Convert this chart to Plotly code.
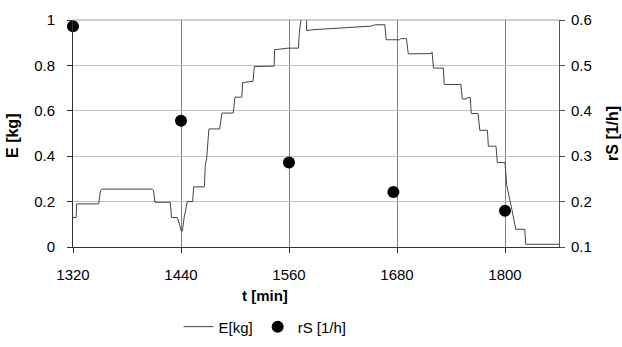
import plotly.graph_objects as go

# E [kg] step-like time series
t_E = [1320, 1323.5, 1324, 1348.5, 1350.5, 1352, 1408, 1409.5, 1411, 1428, 1429.5, 1436,
       1440.5, 1441.5, 1443.5, 1447, 1453, 1454, 1466, 1467, 1468.5, 1471, 1483, 1485.5,
       1498, 1500, 1507.5, 1508.5, 1520, 1521.5, 1543.5, 1544, 1559, 1570.5, 1571.5, 1574.5,
       1579.5, 1579.6, 1590, 1605, 1622, 1640, 1651, 1656, 1666.5, 1668, 1683, 1684, 1690.5,
       1692.5, 1718, 1719, 1720.5, 1731.5, 1732.5, 1751, 1752.5, 1757, 1758, 1761.5, 1762.5,
       1770, 1772, 1780.5, 1781.5, 1790, 1791.5, 1800, 1802, 1807, 1812, 1822, 1823, 1860]
E_kg = [0.13, 0.13, 0.19, 0.19, 0.25, 0.255, 0.255, 0.25, 0.197, 0.197, 0.13, 0.13,
        0.07, 0.07, 0.13, 0.2, 0.2, 0.265, 0.265, 0.36, 0.39, 0.52, 0.52, 0.59,
        0.59, 0.66, 0.66, 0.724, 0.73, 0.795, 0.797, 0.869, 0.876, 0.876, 0.945, 1.04,
        1.04, 0.954, 0.958, 0.962, 0.966, 0.97, 0.973, 0.979, 0.979, 0.913, 0.913, 0.918, 0.918,
        0.851, 0.852, 0.859, 0.788, 0.788, 0.716, 0.716, 0.652, 0.652, 0.658, 0.658, 0.588,
        0.588, 0.514, 0.514, 0.444, 0.444, 0.372, 0.372, 0.27, 0.178, 0.078, 0.078, 0.012, 0.012]

# rS [1/h] points
t_rS = [1320, 1440, 1560, 1676, 1800]
rS = [0.586, 0.378, 0.286, 0.221, 0.18]

x_ticks = [1320, 1440, 1560, 1680, 1800]

FONT = "Liberation Sans, Arial, sans-serif"

fig = go.Figure()
fig.add_trace(go.Scatter(x=t_E, y=E_kg, mode="lines", name="E[kg]",
                         line=dict(color="#444444", width=1)))
fig.add_trace(go.Scatter(x=t_rS, y=rS, mode="markers", name="rS [1/h]", yaxis="y2",
                         marker=dict(color="black", size=12), cliponaxis=False))

fig.update_layout(
    width=622, height=347,
    margin=dict(l=73, r=63, t=20, b=100, autoexpand=False),
    paper_bgcolor="white", plot_bgcolor="white",
    font=dict(family=FONT, size=15, color="black"),
    showlegend=True,
    legend=dict(orientation="h", x=0.395, xanchor="center", y=-0.352, yanchor="middle",
                font=dict(size=15), itemwidth=30, bgcolor="rgba(0,0,0,0)"),
    xaxis=dict(range=[1320, 1860], tickvals=x_ticks, showgrid=True, gridcolor="#808080",
               gridwidth=1, zeroline=False, showline=True, linecolor="#333333", linewidth=1,
               mirror=False, ticks="outside", ticklen=5, tickcolor="#333333",
               tickfont=dict(size=15), ticklabelstandoff=9),
    yaxis=dict(range=[0, 1], dtick=0.2, showgrid=True, gridcolor="#c0c0c0", gridwidth=1,
               zeroline=False, showline=True, linecolor="#333333", linewidth=1,
               ticks="outside", ticklen=5, tickcolor="#333333", tickfont=dict(size=15),
               ticklabelstandoff=9),
    yaxis2=dict(range=[0.1, 0.6], dtick=0.1, overlaying="y", side="right", showgrid=False,
                zeroline=False, showline=True, linecolor="#555555", linewidth=1,
                ticks="outside", ticklen=5, tickcolor="#555555", tickfont=dict(size=15),
                tickformat=".1f", ticklabelstandoff=3),
    shapes=[dict(type="line", xref="paper", yref="paper", x0=0, x1=1, y0=1, y1=1,
                 line=dict(color="#a0a0a0", width=1))],
    annotations=[
        dict(text="<b>t [min]</b>", xref="paper", yref="paper", x=0.395, y=-0.215,
             xanchor="center", yanchor="middle", showarrow=False, font=dict(size=15)),
        dict(text="<b>E [kg]</b>", xref="paper", yref="paper", x=-0.123, y=0.49,
             xanchor="center", yanchor="middle", textangle=-90, showarrow=False,
             font=dict(size=16)),
        dict(text="<b>rS [1/h]</b>", xref="paper", yref="paper", x=1.11, y=0.5,
             xanchor="center", yanchor="middle", textangle=-90, showarrow=False,
             font=dict(size=16)),
    ],
)

fig.write_html("out.html")
